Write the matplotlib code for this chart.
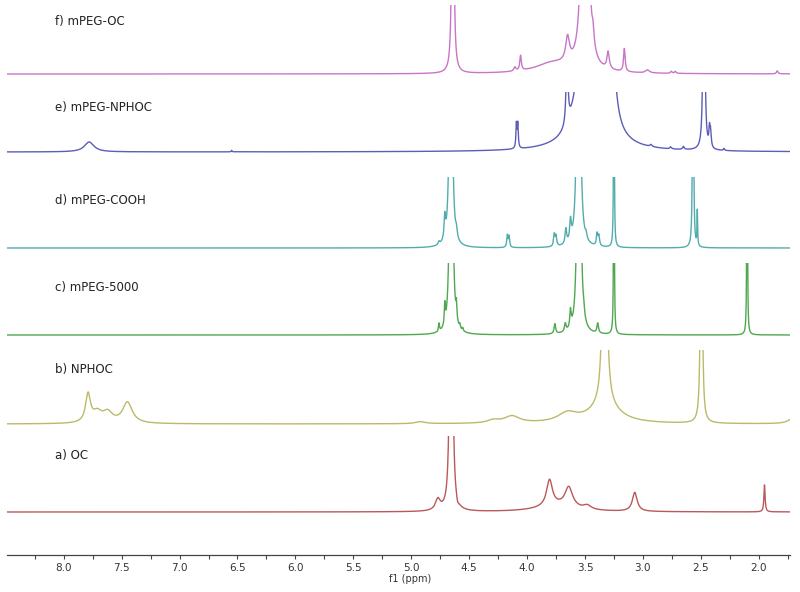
import matplotlib.pyplot as plt
import numpy as np

# peak lists: centre (ppm), height (px above baseline), half width (ppm)
f_centers = [4.641, 4.105, 4.056, 3.78, 3.65, 3.50, 3.43, 3.30, 3.16, 2.96, 2.755, 2.72, 1.84]
f_heights = [600, 4, 15, 10, 25, 5000, 15, 17, 23, 3, 2, 2, 3]
f_widths = [0.006, 0.01, 0.008, 0.18, 0.02, 0.006, 0.01, 0.012, 0.008, 0.02, 0.008, 0.008, 0.008]

e_centers = [7.78, 6.55, 4.092, 4.080, 3.655, 3.45, 3.28, 2.93, 2.76, 2.65, 2.473, 2.425, 2.415, 2.30]
e_heights = [10, 1.5, 24, 24, 90, 3000, 150, 2, 2, 3, 400, 18, 15, 2]
e_widths = [0.05, 0.004, 0.005, 0.005, 0.008, 0.02, 0.03, 0.01, 0.008, 0.008, 0.006, 0.006, 0.006, 0.006]

d_centers = [4.76, 4.71, 4.658, 4.61, 4.17, 4.155, 3.765, 3.75, 3.665, 3.625, 3.555, 3.49,
             3.395, 3.38, 3.25, 2.567, 2.53]
d_heights = [3, 22, 800, 8, 12, 11, 12, 10, 15, 20, 1500, 5, 12, 10, 600, 600, 35]
d_widths = [0.008, 0.007, 0.007, 0.008, 0.006, 0.006, 0.007, 0.007, 0.008, 0.008, 0.006, 0.008,
            0.007, 0.007, 0.002, 0.003, 0.003]

c_centers = [4.76, 4.71, 4.655, 4.61, 4.58, 4.555, 3.76, 3.67, 3.625, 3.552, 3.51, 3.39, 3.25, 2.10]
c_heights = [8, 20, 1200, 16, 4, 3, 10, 8, 17, 1500, 6, 10, 600, 600]
c_widths = [0.005, 0.005, 0.006, 0.005, 0.005, 0.005, 0.008, 0.008, 0.007, 0.006, 0.006, 0.008,
            0.002, 0.002]

b_centers = [7.79, 7.71, 7.62, 7.45, 4.92, 4.29, 4.13, 3.65, 3.33, 3.33, 2.495, 1.70]
b_heights = [28, 10, 10, 21, 2, 3, 7, 9, 700, 18, 500, 6]
b_widths = [0.025, 0.05, 0.05, 0.05, 0.05, 0.06, 0.08, 0.1, 0.01, 0.15, 0.006, 0.05]

a_centers = [4.77, 4.655, 4.60, 3.806, 3.75, 3.64, 3.48, 3.07, 1.95]
a_heights = [11, 1200, -4, 26, 6, 20, 4, 19, 27]
a_widths = [0.025, 0.006, 0.01, 0.03, 0.2, 0.04, 0.04, 0.025, 0.006]

labels = ["f) mPEG-OC", "e) mPEG-NPHOC", "d) mPEG-COOH", "c) mPEG-5000", "b) NPHOC", "a) OC"]
colors = ["#c266c2", "#4b4bb0", "#3fa3a3", "#3c9e3c", "#b3b35a", "#b34747"]
# baseline and clip height in pixels
baselines = [74, 152, 248, 335, 424, 512]
caps = [5, 92, 177, 263, 350, 436]
label_y = [21, 108, 201, 287, 369, 455]

peaks = [(f_centers, f_heights, f_widths), (e_centers, e_heights, e_widths),
         (d_centers, d_heights, d_widths), (c_centers, c_heights, c_widths),
         (b_centers, b_heights, b_widths), (a_centers, a_heights, a_widths)]

W, H = 800, 592
XL, XR = 8.49, 1.73
ppm = np.linspace(XR, XL, 14000)


def spectrum(centers, heights, widths):
    y = np.zeros_like(ppm)
    for c, h, w in zip(centers, heights, widths):
        y += h * w**2 / ((ppm - c)**2 + w**2)
    return y


def px_axes(x0, y_top, x1, y_bot):
    return fig.add_axes([x0 / W, 1 - y_bot / H, (x1 - x0) / W, (y_bot - y_top) / H])


fig = plt.figure(figsize=(8, 5.92), dpi=100)

base = px_axes(7, 0, 790, 555)
base.set_xlim(XL, XR)
base.set_ylim(0, 1)
for s in ["left", "right", "top"]:
    base.spines[s].set_visible(False)
base.spines["bottom"].set_color("#444444")
base.spines["bottom"].set_linewidth(0.9)
base.set_yticks([])
base.set_xticks(np.arange(2.0, 8.01, 0.5))
base.set_xticks(np.arange(1.75, 8.5, 0.25), minor=True)
base.set_xticklabels(["%.1f" % v for v in np.arange(2.0, 8.01, 0.5)])
base.tick_params(axis="x", which="both", length=3, width=0.8, color="#444444",
                 labelsize=7.5, labelcolor="#333333", pad=3)
base.patch.set_visible(False)
fig.text(410 / W, 1 - 579 / H, "f1 (ppm)", ha="center", va="center", fontsize=7, color="#333333")

margin = 14
for (cs, hs, ws), col, yb, yc, lab, ly in zip(peaks, colors, baselines, caps, labels, label_y):
    ax = px_axes(7, yc, 790, yb + margin)
    ax.set_xlim(XL, XR)
    ax.set_ylim(-margin, yb - yc)
    ax.plot(ppm, spectrum(cs, hs, ws), color=col, lw=1.0, alpha=0.9)
    ax.axis("off")
    fig.text(55 / W, 1 - ly / H, lab, ha="left", va="center", fontsize=8.5, color="#222222")

fig.savefig("out.png", dpi=100)
